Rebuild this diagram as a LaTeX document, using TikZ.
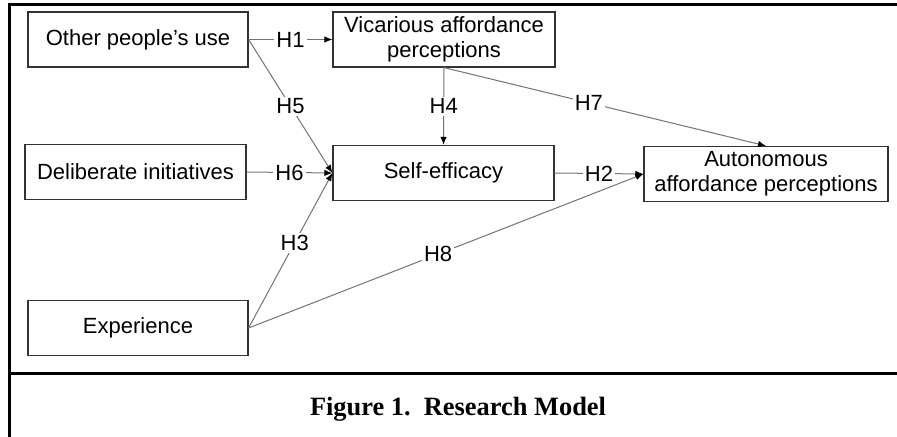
\documentclass[tikz,border=0pt]{standalone}
\usepackage{fontspec}
\setmainfont{Liberation Sans}
\newfontfamily\capfont{Liberation Serif}
\usetikzlibrary{arrows.meta}

\begin{document}
\begin{tikzpicture}[x=0.5pt, y=-0.5pt,
    construct/.style={draw=black!80, line width=0.6pt, align=center,
      minimum height=27.5pt, inner sep=2pt,
      font=\fontsize{11}{12.5}\selectfont},
    link/.style={draw=black!55, line width=0.5pt,
      -{Latex[black, length=4pt, width=3.2pt]}},
    hyp/.style={fill=white, inner sep=1pt, font=\fontsize{11}{12}\selectfont},
    frame/.style={line width=1.5pt}
  ]

      \useasboundingbox (0,0) rectangle (897,437);

      % outer frame and caption rule
      \draw[frame] (9,437) -- (9,5) -- (897,5);
      \draw[frame] (9,373) -- (897,373);

      \node[construct, minimum width=110pt] (other) at (138,39.5) {Other people's use};
      \node[construct, minimum width=111pt] (vicar) at (444,39.5) {Vicarious affordance\\perceptions};
      \node[construct, minimum width=110.5pt] (delib) at (135.5,172) {Deliberate initiatives};
      \node[construct, minimum width=110.5pt] (self) at (443.5,173) {Self-efficacy};
      \node[construct, minimum width=122pt] (auton) at (766,174) {Autonomous\\affordance perceptions};
      \node[construct, minimum width=110pt] (exper) at (138,328) {Experience};

      \draw[link] (other.east) -- node[hyp] {H1} (vicar.west);
      \draw[link] (other.east) -- node[hyp] {H5} (self.west);
      \draw[link] (delib.east) -- node[hyp] {H6} (self.west);
      \draw[link] (exper.east) -- node[hyp, pos=0.55] {H3} (self.west);
      \draw[link] (vicar.south) -- node[hyp] {H4} (self.north);
      \draw[link] (vicar.south) -- node[hyp, pos=0.45] {H7} (auton.north);
      \draw[link] (self.east) -- node[hyp] {H2} (auton.west);
      \draw[link] (exper.east) -- node[hyp, pos=0.48] {H8} (auton.west);

      \node[anchor=base, font=\capfont\bfseries\fontsize{13.2}{15}\selectfont] (caption) at (458,415) {Figure 1.\ \ Research Model};

\end{tikzpicture}
\end{document}
